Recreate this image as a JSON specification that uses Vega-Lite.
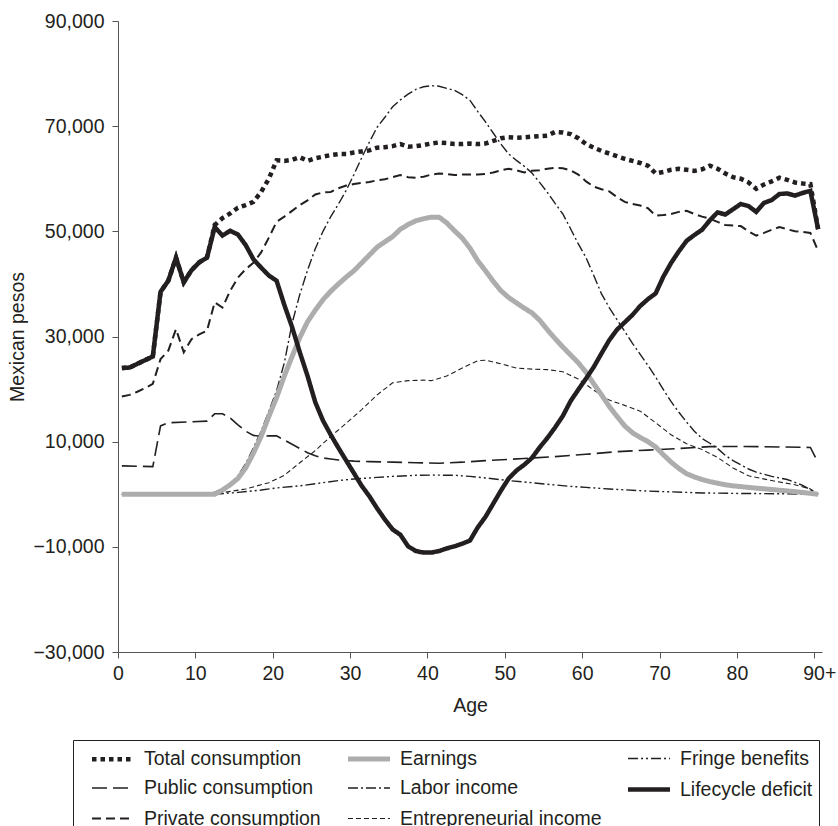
{
"$schema": "https://vega.github.io/schema/vega-lite/v6.json",
"autosize": {"type": "none"},
"width": 704,
"height": 631,
"padding": {"left": 118, "top": 21, "right": 16, "bottom": 174},
"datasets": {
"pts": [
{"series":"Public consumption","age":0.5,"value":5400},{"series":"Public consumption","age":4.5,"value":5250},{"series":"Public consumption","age":5.5,"value":13000},{"series":"Public consumption","age":6.5,"value":13600},{"series":"Public consumption","age":11.5,"value":13900},{"series":"Public consumption","age":12.5,"value":15300},{"series":"Public consumption","age":13.5,"value":15300},{"series":"Public consumption","age":14.5,"value":14500},{"series":"Public consumption","age":15.5,"value":13200},{"series":"Public consumption","age":16.5,"value":12000},{"series":"Public consumption","age":17.5,"value":11200},{"series":"Public consumption","age":18.5,"value":11000},{"series":"Public consumption","age":19.5,"value":11100},{"series":"Public consumption","age":20.5,"value":11100},{"series":"Public consumption","age":21.5,"value":10300},{"series":"Public consumption","age":22.5,"value":9500},{"series":"Public consumption","age":23.5,"value":8700},{"series":"Public consumption","age":24.5,"value":7900},{"series":"Public consumption","age":25.5,"value":7300},{"series":"Public consumption","age":26.5,"value":6900},{"series":"Public consumption","age":27.5,"value":6700},{"series":"Public consumption","age":28.5,"value":6500},{"series":"Public consumption","age":30.5,"value":6300},{"series":"Public consumption","age":32.5,"value":6200},{"series":"Public consumption","age":35.5,"value":6100},{"series":"Public consumption","age":38.5,"value":6000},{"series":"Public consumption","age":41.5,"value":5900},{"series":"Public consumption","age":44.5,"value":6100},{"series":"Public consumption","age":47.5,"value":6400},{"series":"Public consumption","age":52.5,"value":6800},{"series":"Public consumption","age":56.5,"value":7150},{"series":"Public consumption","age":60.5,"value":7600},{"series":"Public consumption","age":64.5,"value":8100},{"series":"Public consumption","age":68.5,"value":8400},{"series":"Public consumption","age":72.5,"value":8700},{"series":"Public consumption","age":76.5,"value":9050},{"series":"Public consumption","age":80.5,"value":9100},{"series":"Public consumption","age":85.5,"value":9000},{"series":"Public consumption","age":89.5,"value":8900},{"series":"Public consumption","age":90.5,"value":6000},
{"series":"Fringe benefits","age":0.5,"value":0},{"series":"Fringe benefits","age":12.5,"value":0},{"series":"Fringe benefits","age":15.5,"value":350},{"series":"Fringe benefits","age":18.5,"value":800},{"series":"Fringe benefits","age":20.5,"value":1200},{"series":"Fringe benefits","age":23.5,"value":1600},{"series":"Fringe benefits","age":25.5,"value":2000},{"series":"Fringe benefits","age":28.5,"value":2600},{"series":"Fringe benefits","age":30.5,"value":2900},{"series":"Fringe benefits","age":33.5,"value":3200},{"series":"Fringe benefits","age":35.5,"value":3400},{"series":"Fringe benefits","age":38.5,"value":3600},{"series":"Fringe benefits","age":40.5,"value":3650},{"series":"Fringe benefits","age":43.5,"value":3600},{"series":"Fringe benefits","age":45.5,"value":3400},{"series":"Fringe benefits","age":47.5,"value":3100},{"series":"Fringe benefits","age":50.5,"value":2600},{"series":"Fringe benefits","age":53.5,"value":2200},{"series":"Fringe benefits","age":55.5,"value":1900},{"series":"Fringe benefits","age":58.5,"value":1500},{"series":"Fringe benefits","age":60.5,"value":1300},{"series":"Fringe benefits","age":63.5,"value":1000},{"series":"Fringe benefits","age":65.5,"value":850},{"series":"Fringe benefits","age":68.5,"value":600},{"series":"Fringe benefits","age":70.5,"value":500},{"series":"Fringe benefits","age":73.5,"value":350},{"series":"Fringe benefits","age":75.5,"value":250},{"series":"Fringe benefits","age":80.5,"value":150},{"series":"Fringe benefits","age":85.5,"value":100},{"series":"Fringe benefits","age":90.5,"value":0},
{"series":"Entrepreneurial income","age":0.5,"value":0},{"series":"Entrepreneurial income","age":12.5,"value":0},{"series":"Entrepreneurial income","age":13.5,"value":300},{"series":"Entrepreneurial income","age":16.5,"value":1000},{"series":"Entrepreneurial income","age":19.5,"value":2200},{"series":"Entrepreneurial income","age":21.5,"value":3600},{"series":"Entrepreneurial income","age":23.5,"value":6000},{"series":"Entrepreneurial income","age":25.5,"value":8300},{"series":"Entrepreneurial income","age":27.5,"value":11000},{"series":"Entrepreneurial income","age":29.5,"value":13500},{"series":"Entrepreneurial income","age":31.5,"value":16100},{"series":"Entrepreneurial income","age":33.5,"value":18900},{"series":"Entrepreneurial income","age":35.5,"value":21200},{"series":"Entrepreneurial income","age":37.5,"value":21600},{"series":"Entrepreneurial income","age":39.5,"value":21700},{"series":"Entrepreneurial income","age":40.5,"value":21600},{"series":"Entrepreneurial income","age":42.5,"value":22500},{"series":"Entrepreneurial income","age":44.5,"value":24000},{"series":"Entrepreneurial income","age":46.5,"value":25400},{"series":"Entrepreneurial income","age":47.5,"value":25500},{"series":"Entrepreneurial income","age":49.5,"value":24800},{"series":"Entrepreneurial income","age":51.5,"value":24000},{"series":"Entrepreneurial income","age":53.5,"value":23800},{"series":"Entrepreneurial income","age":55.5,"value":23700},{"series":"Entrepreneurial income","age":57.5,"value":23300},{"series":"Entrepreneurial income","age":59.5,"value":21900},{"series":"Entrepreneurial income","age":61.5,"value":19800},{"series":"Entrepreneurial income","age":63.5,"value":17900},{"series":"Entrepreneurial income","age":65.5,"value":16900},{"series":"Entrepreneurial income","age":67.5,"value":15800},{"series":"Entrepreneurial income","age":69.5,"value":13600},{"series":"Entrepreneurial income","age":71.5,"value":11300},{"series":"Entrepreneurial income","age":73.5,"value":9600},{"series":"Entrepreneurial income","age":75.5,"value":8500},{"series":"Entrepreneurial income","age":77.5,"value":7000},{"series":"Entrepreneurial income","age":79.5,"value":5000},{"series":"Entrepreneurial income","age":81.5,"value":3500},{"series":"Entrepreneurial income","age":84.5,"value":2600},{"series":"Entrepreneurial income","age":87.5,"value":1800},{"series":"Entrepreneurial income","age":89.5,"value":1000},{"series":"Entrepreneurial income","age":90.5,"value":0},
{"series":"Labor income","age":0.5,"value":0},{"series":"Labor income","age":11.5,"value":0},{"series":"Labor income","age":12.5,"value":400},{"series":"Labor income","age":13.5,"value":1000},{"series":"Labor income","age":14.5,"value":2000},{"series":"Labor income","age":15.5,"value":3500},{"series":"Labor income","age":16.5,"value":5800},{"series":"Labor income","age":17.5,"value":8800},{"series":"Labor income","age":18.5,"value":12000},{"series":"Labor income","age":19.5,"value":15800},{"series":"Labor income","age":20.5,"value":19700},{"series":"Labor income","age":21.5,"value":25000},{"series":"Labor income","age":22.5,"value":32500},{"series":"Labor income","age":23.5,"value":38000},{"series":"Labor income","age":24.5,"value":42600},{"series":"Labor income","age":25.5,"value":46700},{"series":"Labor income","age":26.5,"value":50000},{"series":"Labor income","age":27.5,"value":52800},{"series":"Labor income","age":28.5,"value":55200},{"series":"Labor income","age":29.5,"value":57800},{"series":"Labor income","age":30.5,"value":60800},{"series":"Labor income","age":31.5,"value":64000},{"series":"Labor income","age":32.5,"value":67000},{"series":"Labor income","age":33.5,"value":69800},{"series":"Labor income","age":34.5,"value":71700},{"series":"Labor income","age":35.5,"value":73700},{"series":"Labor income","age":36.5,"value":75000},{"series":"Labor income","age":37.5,"value":76100},{"series":"Labor income","age":38.5,"value":77000},{"series":"Labor income","age":39.5,"value":77500},{"series":"Labor income","age":40.5,"value":77700},{"series":"Labor income","age":41.5,"value":77600},{"series":"Labor income","age":42.5,"value":77200},{"series":"Labor income","age":43.5,"value":76800},{"series":"Labor income","age":44.5,"value":76000},{"series":"Labor income","age":45.5,"value":74900},{"series":"Labor income","age":46.5,"value":72800},{"series":"Labor income","age":47.5,"value":70800},{"series":"Labor income","age":48.5,"value":68700},{"series":"Labor income","age":49.5,"value":66600},{"series":"Labor income","age":50.5,"value":64700},{"series":"Labor income","age":51.5,"value":63500},{"series":"Labor income","age":52.5,"value":62400},{"series":"Labor income","age":53.5,"value":61100},{"series":"Labor income","age":54.5,"value":59300},{"series":"Labor income","age":55.5,"value":57400},{"series":"Labor income","age":56.5,"value":55300},{"series":"Labor income","age":57.5,"value":53300},{"series":"Labor income","age":58.5,"value":50500},{"series":"Labor income","age":59.5,"value":47600},{"series":"Labor income","age":60.5,"value":45000},{"series":"Labor income","age":61.5,"value":41600},{"series":"Labor income","age":62.5,"value":38100},{"series":"Labor income","age":63.5,"value":35500},{"series":"Labor income","age":64.5,"value":33200},{"series":"Labor income","age":65.5,"value":31000},{"series":"Labor income","age":66.5,"value":28700},{"series":"Labor income","age":67.5,"value":26600},{"series":"Labor income","age":68.5,"value":24500},{"series":"Labor income","age":69.5,"value":22300},{"series":"Labor income","age":70.5,"value":19900},{"series":"Labor income","age":71.5,"value":17600},{"series":"Labor income","age":72.5,"value":15600},{"series":"Labor income","age":73.5,"value":13700},{"series":"Labor income","age":74.5,"value":12000},{"series":"Labor income","age":75.5,"value":10600},{"series":"Labor income","age":76.5,"value":9700},{"series":"Labor income","age":77.5,"value":8700},{"series":"Labor income","age":78.5,"value":7400},{"series":"Labor income","age":79.5,"value":6400},{"series":"Labor income","age":80.5,"value":5600},{"series":"Labor income","age":81.5,"value":4800},{"series":"Labor income","age":82.5,"value":4200},{"series":"Labor income","age":84.5,"value":3400},{"series":"Labor income","age":86.5,"value":2800},{"series":"Labor income","age":88.5,"value":1700},{"series":"Labor income","age":90.5,"value":0},
{"series":"Private consumption","age":0.5,"value":18600},{"series":"Private consumption","age":1.5,"value":18900},{"series":"Private consumption","age":2.5,"value":19500},{"series":"Private consumption","age":3.5,"value":20200},{"series":"Private consumption","age":4.5,"value":21000},{"series":"Private consumption","age":5.5,"value":25700},{"series":"Private consumption","age":6.5,"value":27300},{"series":"Private consumption","age":7.5,"value":31400},{"series":"Private consumption","age":8.5,"value":27000},{"series":"Private consumption","age":9.5,"value":29500},{"series":"Private consumption","age":10.5,"value":30400},{"series":"Private consumption","age":11.5,"value":31100},{"series":"Private consumption","age":12.5,"value":36500},{"series":"Private consumption","age":13.5,"value":35500},{"series":"Private consumption","age":14.5,"value":38700},{"series":"Private consumption","age":15.5,"value":41200},{"series":"Private consumption","age":16.5,"value":42800},{"series":"Private consumption","age":17.5,"value":44000},{"series":"Private consumption","age":18.5,"value":46000},{"series":"Private consumption","age":19.5,"value":48800},{"series":"Private consumption","age":20.5,"value":51800},{"series":"Private consumption","age":21.5,"value":52800},{"series":"Private consumption","age":22.5,"value":53900},{"series":"Private consumption","age":23.5,"value":55000},{"series":"Private consumption","age":24.5,"value":55900},{"series":"Private consumption","age":25.5,"value":57000},{"series":"Private consumption","age":26.5,"value":57400},{"series":"Private consumption","age":27.5,"value":57500},{"series":"Private consumption","age":28.5,"value":58200},{"series":"Private consumption","age":29.5,"value":58700},{"series":"Private consumption","age":30.5,"value":59000},{"series":"Private consumption","age":31.5,"value":59200},{"series":"Private consumption","age":32.5,"value":59400},{"series":"Private consumption","age":33.5,"value":59700},{"series":"Private consumption","age":34.5,"value":59900},{"series":"Private consumption","age":35.5,"value":60300},{"series":"Private consumption","age":36.5,"value":60700},{"series":"Private consumption","age":37.5,"value":60300},{"series":"Private consumption","age":38.5,"value":60200},{"series":"Private consumption","age":39.5,"value":60400},{"series":"Private consumption","age":40.5,"value":60800},{"series":"Private consumption","age":41.5,"value":61000},{"series":"Private consumption","age":42.5,"value":60900},{"series":"Private consumption","age":43.5,"value":60700},{"series":"Private consumption","age":44.5,"value":60800},{"series":"Private consumption","age":45.5,"value":60800},{"series":"Private consumption","age":46.5,"value":60800},{"series":"Private consumption","age":47.5,"value":60900},{"series":"Private consumption","age":48.5,"value":61200},{"series":"Private consumption","age":49.5,"value":61600},{"series":"Private consumption","age":50.5,"value":61900},{"series":"Private consumption","age":51.5,"value":61600},{"series":"Private consumption","age":52.5,"value":61200},{"series":"Private consumption","age":53.5,"value":61500},{"series":"Private consumption","age":54.5,"value":61600},{"series":"Private consumption","age":55.5,"value":61900},{"series":"Private consumption","age":56.5,"value":62100},{"series":"Private consumption","age":57.5,"value":62000},{"series":"Private consumption","age":58.5,"value":61600},{"series":"Private consumption","age":59.5,"value":60800},{"series":"Private consumption","age":60.5,"value":59500},{"series":"Private consumption","age":61.5,"value":58500},{"series":"Private consumption","age":62.5,"value":58000},{"series":"Private consumption","age":63.5,"value":57600},{"series":"Private consumption","age":64.5,"value":56500},{"series":"Private consumption","age":65.5,"value":55600},{"series":"Private consumption","age":66.5,"value":55200},{"series":"Private consumption","age":67.5,"value":54900},{"series":"Private consumption","age":68.5,"value":54400},{"series":"Private consumption","age":69.5,"value":53000},{"series":"Private consumption","age":70.5,"value":53100},{"series":"Private consumption","age":71.5,"value":53300},{"series":"Private consumption","age":72.5,"value":53700},{"series":"Private consumption","age":73.5,"value":53900},{"series":"Private consumption","age":74.5,"value":53300},{"series":"Private consumption","age":75.5,"value":52800},{"series":"Private consumption","age":76.5,"value":52400},{"series":"Private consumption","age":77.5,"value":51800},{"series":"Private consumption","age":78.5,"value":51200},{"series":"Private consumption","age":79.5,"value":51100},{"series":"Private consumption","age":80.5,"value":51000},{"series":"Private consumption","age":81.5,"value":50000},{"series":"Private consumption","age":82.5,"value":49200},{"series":"Private consumption","age":83.5,"value":49700},{"series":"Private consumption","age":84.5,"value":50300},{"series":"Private consumption","age":85.5,"value":50800},{"series":"Private consumption","age":86.5,"value":50400},{"series":"Private consumption","age":87.5,"value":50000},{"series":"Private consumption","age":88.5,"value":49900},{"series":"Private consumption","age":89.5,"value":49700},{"series":"Private consumption","age":90.5,"value":46300},
{"series":"Earnings","age":0.5,"value":0},{"series":"Earnings","age":12.5,"value":0},{"series":"Earnings","age":13.5,"value":800},{"series":"Earnings","age":14.5,"value":1800},{"series":"Earnings","age":15.5,"value":3000},{"series":"Earnings","age":16.5,"value":5000},{"series":"Earnings","age":17.5,"value":7800},{"series":"Earnings","age":18.5,"value":11000},{"series":"Earnings","age":19.5,"value":14800},{"series":"Earnings","age":20.5,"value":18400},{"series":"Earnings","age":21.5,"value":22500},{"series":"Earnings","age":22.5,"value":26200},{"series":"Earnings","age":23.5,"value":29800},{"series":"Earnings","age":24.5,"value":32800},{"series":"Earnings","age":25.5,"value":35000},{"series":"Earnings","age":26.5,"value":37000},{"series":"Earnings","age":27.5,"value":38600},{"series":"Earnings","age":28.5,"value":40000},{"series":"Earnings","age":29.5,"value":41300},{"series":"Earnings","age":30.5,"value":42500},{"series":"Earnings","age":31.5,"value":44000},{"series":"Earnings","age":32.5,"value":45500},{"series":"Earnings","age":33.5,"value":47000},{"series":"Earnings","age":34.5,"value":48000},{"series":"Earnings","age":35.5,"value":49000},{"series":"Earnings","age":36.5,"value":50400},{"series":"Earnings","age":37.5,"value":51300},{"series":"Earnings","age":38.5,"value":52000},{"series":"Earnings","age":39.5,"value":52400},{"series":"Earnings","age":40.5,"value":52700},{"series":"Earnings","age":41.5,"value":52700},{"series":"Earnings","age":42.5,"value":51600},{"series":"Earnings","age":43.5,"value":50100},{"series":"Earnings","age":44.5,"value":48700},{"series":"Earnings","age":45.5,"value":46800},{"series":"Earnings","age":46.5,"value":44400},{"series":"Earnings","age":47.5,"value":42500},{"series":"Earnings","age":48.5,"value":40500},{"series":"Earnings","age":49.5,"value":38700},{"series":"Earnings","age":50.5,"value":37400},{"series":"Earnings","age":51.5,"value":36400},{"series":"Earnings","age":52.5,"value":35400},{"series":"Earnings","age":53.5,"value":34500},{"series":"Earnings","age":54.5,"value":33100},{"series":"Earnings","age":55.5,"value":31300},{"series":"Earnings","age":56.5,"value":29600},{"series":"Earnings","age":57.5,"value":28000},{"series":"Earnings","age":58.5,"value":26500},{"series":"Earnings","age":59.5,"value":25000},{"series":"Earnings","age":60.5,"value":23200},{"series":"Earnings","age":61.5,"value":21000},{"series":"Earnings","age":62.5,"value":18900},{"series":"Earnings","age":63.5,"value":16700},{"series":"Earnings","age":64.5,"value":14800},{"series":"Earnings","age":65.5,"value":13000},{"series":"Earnings","age":66.5,"value":11700},{"series":"Earnings","age":67.5,"value":10800},{"series":"Earnings","age":68.5,"value":10000},{"series":"Earnings","age":69.5,"value":9000},{"series":"Earnings","age":70.5,"value":7500},{"series":"Earnings","age":71.5,"value":6100},{"series":"Earnings","age":72.5,"value":4900},{"series":"Earnings","age":73.5,"value":3900},{"series":"Earnings","age":74.5,"value":3300},{"series":"Earnings","age":75.5,"value":2800},{"series":"Earnings","age":76.5,"value":2400},{"series":"Earnings","age":77.5,"value":2100},{"series":"Earnings","age":78.5,"value":1800},{"series":"Earnings","age":79.5,"value":1600},{"series":"Earnings","age":81.5,"value":1300},{"series":"Earnings","age":84.5,"value":900},{"series":"Earnings","age":87.5,"value":500},{"series":"Earnings","age":90.5,"value":0},
{"series":"Total consumption","age":0.5,"value":24000},{"series":"Total consumption","age":1.5,"value":24100},{"series":"Total consumption","age":2.5,"value":24800},{"series":"Total consumption","age":3.5,"value":25500},{"series":"Total consumption","age":4.5,"value":26200},{"series":"Total consumption","age":5.5,"value":38500},{"series":"Total consumption","age":6.5,"value":40600},{"series":"Total consumption","age":7.5,"value":45000},{"series":"Total consumption","age":8.5,"value":40300},{"series":"Total consumption","age":9.5,"value":42600},{"series":"Total consumption","age":10.5,"value":44100},{"series":"Total consumption","age":11.5,"value":45000},{"series":"Total consumption","age":12.5,"value":51200},{"series":"Total consumption","age":13.5,"value":52500},{"series":"Total consumption","age":14.5,"value":53400},{"series":"Total consumption","age":15.5,"value":54500},{"series":"Total consumption","age":16.5,"value":55000},{"series":"Total consumption","age":17.5,"value":55600},{"series":"Total consumption","age":18.5,"value":57500},{"series":"Total consumption","age":19.5,"value":60000},{"series":"Total consumption","age":20.5,"value":63500},{"series":"Total consumption","age":21.5,"value":63400},{"series":"Total consumption","age":22.5,"value":63600},{"series":"Total consumption","age":23.5,"value":64100},{"series":"Total consumption","age":24.5,"value":63400},{"series":"Total consumption","age":25.5,"value":63900},{"series":"Total consumption","age":26.5,"value":64200},{"series":"Total consumption","age":27.5,"value":64500},{"series":"Total consumption","age":28.5,"value":64700},{"series":"Total consumption","age":29.5,"value":64700},{"series":"Total consumption","age":30.5,"value":65000},{"series":"Total consumption","age":31.5,"value":65200},{"series":"Total consumption","age":32.5,"value":65400},{"series":"Total consumption","age":33.5,"value":65900},{"series":"Total consumption","age":34.5,"value":66000},{"series":"Total consumption","age":35.5,"value":66200},{"series":"Total consumption","age":36.5,"value":66600},{"series":"Total consumption","age":37.5,"value":66100},{"series":"Total consumption","age":38.5,"value":66200},{"series":"Total consumption","age":39.5,"value":66400},{"series":"Total consumption","age":40.5,"value":66700},{"series":"Total consumption","age":41.5,"value":66900},{"series":"Total consumption","age":42.5,"value":66800},{"series":"Total consumption","age":43.5,"value":66600},{"series":"Total consumption","age":44.5,"value":66600},{"series":"Total consumption","age":45.5,"value":66700},{"series":"Total consumption","age":46.5,"value":66600},{"series":"Total consumption","age":47.5,"value":66700},{"series":"Total consumption","age":48.5,"value":67200},{"series":"Total consumption","age":49.5,"value":67700},{"series":"Total consumption","age":50.5,"value":67900},{"series":"Total consumption","age":51.5,"value":67800},{"series":"Total consumption","age":52.5,"value":67850},{"series":"Total consumption","age":53.5,"value":68000},{"series":"Total consumption","age":54.5,"value":68100},{"series":"Total consumption","age":55.5,"value":68200},{"series":"Total consumption","age":56.5,"value":68900},{"series":"Total consumption","age":57.5,"value":68800},{"series":"Total consumption","age":58.5,"value":68500},{"series":"Total consumption","age":59.5,"value":67700},{"series":"Total consumption","age":60.5,"value":66600},{"series":"Total consumption","age":61.5,"value":65900},{"series":"Total consumption","age":62.5,"value":65300},{"series":"Total consumption","age":63.5,"value":64800},{"series":"Total consumption","age":64.5,"value":64300},{"series":"Total consumption","age":65.5,"value":63800},{"series":"Total consumption","age":66.5,"value":63400},{"series":"Total consumption","age":67.5,"value":63000},{"series":"Total consumption","age":68.5,"value":62500},{"series":"Total consumption","age":69.5,"value":61000},{"series":"Total consumption","age":70.5,"value":61300},{"series":"Total consumption","age":71.5,"value":61700},{"series":"Total consumption","age":72.5,"value":61900},{"series":"Total consumption","age":73.5,"value":61700},{"series":"Total consumption","age":74.5,"value":61500},{"series":"Total consumption","age":75.5,"value":61800},{"series":"Total consumption","age":76.5,"value":62500},{"series":"Total consumption","age":77.5,"value":61900},{"series":"Total consumption","age":78.5,"value":61000},{"series":"Total consumption","age":79.5,"value":60300},{"series":"Total consumption","age":80.5,"value":60000},{"series":"Total consumption","age":81.5,"value":59300},{"series":"Total consumption","age":82.5,"value":58100},{"series":"Total consumption","age":83.5,"value":58900},{"series":"Total consumption","age":84.5,"value":59500},{"series":"Total consumption","age":85.5,"value":60200},{"series":"Total consumption","age":86.5,"value":59800},{"series":"Total consumption","age":87.5,"value":59300},{"series":"Total consumption","age":88.5,"value":59100},{"series":"Total consumption","age":89.5,"value":59000},{"series":"Total consumption","age":90.5,"value":50400},
{"series":"Lifecycle deficit","age":0.5,"value":24000},{"series":"Lifecycle deficit","age":1.5,"value":24100},{"series":"Lifecycle deficit","age":2.5,"value":24800},{"series":"Lifecycle deficit","age":3.5,"value":25500},{"series":"Lifecycle deficit","age":4.5,"value":26200},{"series":"Lifecycle deficit","age":5.5,"value":38500},{"series":"Lifecycle deficit","age":6.5,"value":40600},{"series":"Lifecycle deficit","age":7.5,"value":45000},{"series":"Lifecycle deficit","age":8.5,"value":40300},{"series":"Lifecycle deficit","age":9.5,"value":42600},{"series":"Lifecycle deficit","age":10.5,"value":44100},{"series":"Lifecycle deficit","age":11.5,"value":45000},{"series":"Lifecycle deficit","age":12.5,"value":50800},{"series":"Lifecycle deficit","age":13.5,"value":49200},{"series":"Lifecycle deficit","age":14.5,"value":50100},{"series":"Lifecycle deficit","age":15.5,"value":49400},{"series":"Lifecycle deficit","age":16.5,"value":47400},{"series":"Lifecycle deficit","age":17.5,"value":44700},{"series":"Lifecycle deficit","age":18.5,"value":43100},{"series":"Lifecycle deficit","age":19.5,"value":41600},{"series":"Lifecycle deficit","age":20.5,"value":40600},{"series":"Lifecycle deficit","age":21.5,"value":36000},{"series":"Lifecycle deficit","age":22.5,"value":31800},{"series":"Lifecycle deficit","age":23.5,"value":27000},{"series":"Lifecycle deficit","age":24.5,"value":22500},{"series":"Lifecycle deficit","age":25.5,"value":17500},{"series":"Lifecycle deficit","age":26.5,"value":14000},{"series":"Lifecycle deficit","age":27.5,"value":11300},{"series":"Lifecycle deficit","age":28.5,"value":8800},{"series":"Lifecycle deficit","age":29.5,"value":6400},{"series":"Lifecycle deficit","age":30.5,"value":4000},{"series":"Lifecycle deficit","age":31.5,"value":1600},{"series":"Lifecycle deficit","age":32.5,"value":-400},{"series":"Lifecycle deficit","age":33.5,"value":-2700},{"series":"Lifecycle deficit","age":34.5,"value":-4800},{"series":"Lifecycle deficit","age":35.5,"value":-6700},{"series":"Lifecycle deficit","age":36.5,"value":-7700},{"series":"Lifecycle deficit","age":37.5,"value":-9900},{"series":"Lifecycle deficit","age":38.5,"value":-10800},{"series":"Lifecycle deficit","age":39.5,"value":-11100},{"series":"Lifecycle deficit","age":40.5,"value":-11100},{"series":"Lifecycle deficit","age":41.5,"value":-10800},{"series":"Lifecycle deficit","age":42.5,"value":-10300},{"series":"Lifecycle deficit","age":43.5,"value":-9900},{"series":"Lifecycle deficit","age":44.5,"value":-9400},{"series":"Lifecycle deficit","age":45.5,"value":-8800},{"series":"Lifecycle deficit","age":46.5,"value":-6300},{"series":"Lifecycle deficit","age":47.5,"value":-4300},{"series":"Lifecycle deficit","age":48.5,"value":-1800},{"series":"Lifecycle deficit","age":49.5,"value":700},{"series":"Lifecycle deficit","age":50.5,"value":3000},{"series":"Lifecycle deficit","age":51.5,"value":4500},{"series":"Lifecycle deficit","age":52.5,"value":5600},{"series":"Lifecycle deficit","age":53.5,"value":6900},{"series":"Lifecycle deficit","age":54.5,"value":8900},{"series":"Lifecycle deficit","age":55.5,"value":10700},{"series":"Lifecycle deficit","age":56.5,"value":12700},{"series":"Lifecycle deficit","age":57.5,"value":14900},{"series":"Lifecycle deficit","age":58.5,"value":17700},{"series":"Lifecycle deficit","age":59.5,"value":19900},{"series":"Lifecycle deficit","age":60.5,"value":22000},{"series":"Lifecycle deficit","age":61.5,"value":24200},{"series":"Lifecycle deficit","age":62.5,"value":26800},{"series":"Lifecycle deficit","age":63.5,"value":29300},{"series":"Lifecycle deficit","age":64.5,"value":31300},{"series":"Lifecycle deficit","age":65.5,"value":32700},{"series":"Lifecycle deficit","age":66.5,"value":34100},{"series":"Lifecycle deficit","age":67.5,"value":35800},{"series":"Lifecycle deficit","age":68.5,"value":37100},{"series":"Lifecycle deficit","age":69.5,"value":38200},{"series":"Lifecycle deficit","age":70.5,"value":41400},{"series":"Lifecycle deficit","age":71.5,"value":44000},{"series":"Lifecycle deficit","age":72.5,"value":46200},{"series":"Lifecycle deficit","age":73.5,"value":48200},{"series":"Lifecycle deficit","age":74.5,"value":49300},{"series":"Lifecycle deficit","age":75.5,"value":50300},{"series":"Lifecycle deficit","age":76.5,"value":52100},{"series":"Lifecycle deficit","age":77.5,"value":53600},{"series":"Lifecycle deficit","age":78.5,"value":53200},{"series":"Lifecycle deficit","age":79.5,"value":54200},{"series":"Lifecycle deficit","age":80.5,"value":55200},{"series":"Lifecycle deficit","age":81.5,"value":54800},{"series":"Lifecycle deficit","age":82.5,"value":53700},{"series":"Lifecycle deficit","age":83.5,"value":55400},{"series":"Lifecycle deficit","age":84.5,"value":55950},{"series":"Lifecycle deficit","age":85.5,"value":57100},{"series":"Lifecycle deficit","age":86.5,"value":57200},{"series":"Lifecycle deficit","age":87.5,"value":56800},{"series":"Lifecycle deficit","age":88.5,"value":57300},{"series":"Lifecycle deficit","age":89.5,"value":57700},{"series":"Lifecycle deficit","age":90.5,"value":50400}
]
},
"data": {"name": "pts"},
"mark": {"type": "line", "strokeCap": "butt", "strokeJoin": "miter"},
"encoding": {
  "x": {"field": "age", "type": "quantitative", "title": "Age",
        "scale": {"domain": [0, 91], "nice": false, "zero": false},
        "axis": {"values": [0,10,20,30,40,50,60,70,80,90], "labelExpr": "datum.value == 90 ? '90+' : datum.label", "labelFlush": false, "labelPadding": 6, "titlePadding": 14,
                 "labelOffset": {"condition": {"test": "datum.value == 90", "value": 5}, "value": 0}}},
  "y": {"field": "value", "type": "quantitative", "title": "Mexican pesos",
        "scale": {"domain": [-30000, 90000], "nice": false},
        "axis": {"values": [-30000,-10000,10000,30000,50000,70000,90000], "format": ",.0f", "labelPadding": 8, "titlePadding": 5}},
  "color": {"field": "series", "type": "nominal", "title": " ",
        "scale": {"domain": ["Total consumption","Public consumption","Private consumption","Earnings","Labor income","Entrepreneurial income","Fringe benefits","Lifecycle deficit"],
                  "range": ["#231f20","#231f20","#231f20","#adadad","#231f20","#231f20","#231f20","#231f20"]}},
  "strokeDash": {"field": "series", "type": "nominal", "title": " ",
        "scale": {"domain": ["Total consumption","Public consumption","Private consumption","Earnings","Labor income","Entrepreneurial income","Fringe benefits","Lifecycle deficit"],
                  "range": [[4.5,4],[15,6],[9,5],[1,0],[10,3,2,3],[5,3],[10,3,2,3,2,3],[1,0]]}},
  "strokeWidth": {"field": "series", "type": "nominal", "title": " ",
        "scale": {"type": "ordinal", "domain": ["Total consumption","Public consumption","Private consumption","Earnings","Labor income","Entrepreneurial income","Fringe benefits","Lifecycle deficit"],
                  "range": [4.5,1.6,2,5,1.4,1.1,1.4,4.5]}}
},
"config": {
  "font": "Liberation Sans",
  "view": {"stroke": null},
  "axis": {"labelFontSize": 19.5, "titleFontSize": 19.5, "titleFontWeight": "normal", "labelColor": "#231f20", "titleColor": "#231f20", "domainColor": "#555555", "tickColor": "#555555", "grid": false, "tickSize": 6},
  "legend": {"orient": "none", "legendX": -45, "legendY": 719, "direction": "vertical", "columns": 3,
             "strokeColor": "#231f20", "padding": 6, "labelFontSize": 19.5, "labelColor": "#231f20", "labelOffset": 18,
             "symbolType": "M-2,0H2", "symbolSize": 441, "symbolOffset": 9, "rowPadding": 7.5, "columnPadding": 17,
             "titleOrient": "left", "titleFontSize": 10, "titlePadding": 12, "labelLimit": 400}
}
}
